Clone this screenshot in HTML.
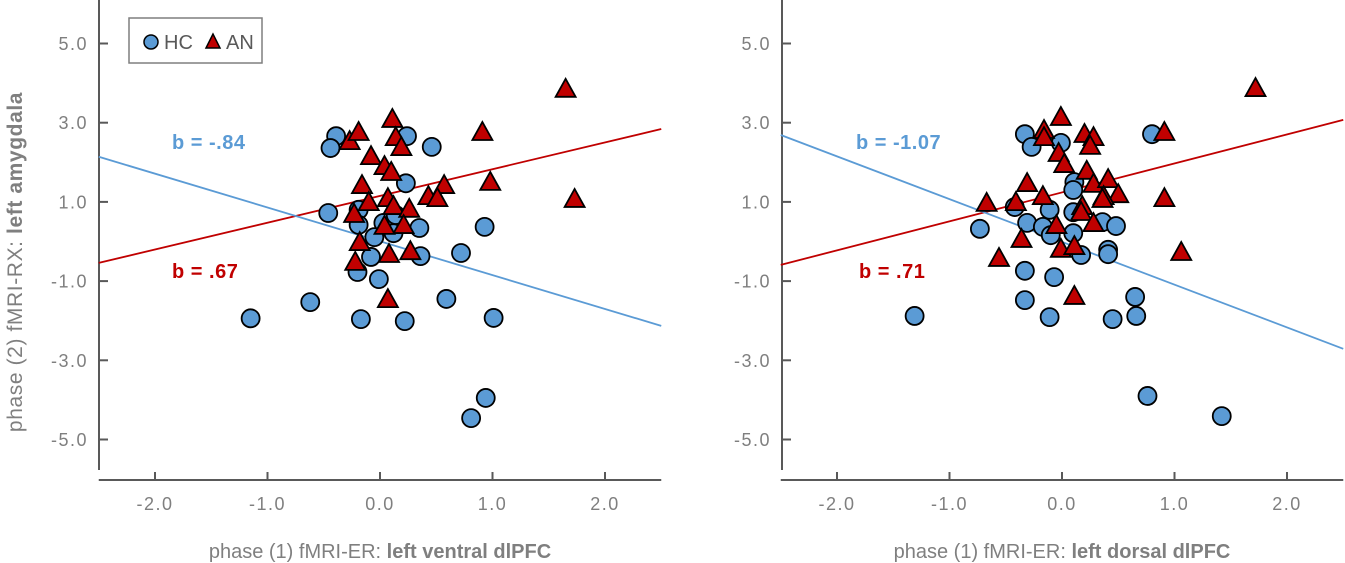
<!DOCTYPE html>
<html><head><meta charset="utf-8"><style>
html,body{margin:0;padding:0;background:#fff;}
svg{display:block;font-family:"Liberation Sans","DejaVu Sans",sans-serif;}
</style></head><body>
<svg id="chart" width="1345" height="563" viewBox="0 0 1345 563">
<g id="root"></g>
</svg>
<script>
// ---- data ----
const xTicks = [-2, -1, 0, 1, 2];
const yTicks = [5, 3, 1, -1, -3, -5];
const tickLabelsX = ["-2.0", "-1.0", "0.0", "1.0", "2.0"];
const tickLabelsY = ["5.0", "3.0", "1.0", "-1.0", "-3.0", "-5.0"];

const leftHCx = [-0.39,-0.44,0.24,0.46,0.23,-0.46,-0.19,-0.19,0.03,-0.05,0.12,0.35,-0.08,-0.20,-0.01,0.36,0.72,0.93,-0.62,-1.15,-0.17,0.22,0.59,1.01,0.81,0.94,0.14];
const leftHCy = [2.66,2.36,2.66,2.39,1.47,0.72,0.80,0.42,0.47,0.11,0.21,0.34,-0.39,-0.77,-0.95,-0.37,-0.29,0.37,-1.53,-1.94,-1.96,-2.01,-1.45,-1.93,-4.46,-3.95,0.67];
const leftANx = [0.11,-0.27,-0.19,0.14,0.19,0.91,-0.08,0.04,0.10,-0.16,0.57,0.43,0.51,0.98,-0.10,0.07,0.12,0.26,-0.23,0.04,0.21,-0.18,0.08,0.27,-0.22,0.07,1.65,1.73];
const leftANy = [3.07,2.51,2.74,2.61,2.36,2.74,2.13,1.88,1.73,1.40,1.40,1.12,1.07,1.48,0.97,1.07,0.87,0.80,0.67,0.37,0.39,-0.04,-0.34,-0.27,-0.54,-1.48,3.83,1.05];

const rightHCx = [-0.33,-0.27,-0.01,0.80,0.11,0.10,-0.42,-0.11,0.10,-0.31,-0.17,-0.10,0.10,0.36,0.48,-0.73,0.17,0.41,0.41,-0.33,-0.07,-0.33,0.65,-0.11,0.45,0.66,0.76,1.42,-1.31];
const rightHCy = [2.71,2.39,2.49,2.71,1.50,1.30,0.87,0.80,0.74,0.47,0.37,0.16,0.21,0.49,0.39,0.32,-0.34,-0.21,-0.32,-0.74,-0.90,-1.48,-1.40,-1.91,-1.96,-1.88,-3.90,-4.41,-1.88];
const rightANx = [-0.01,-0.16,-0.16,0.20,0.28,0.25,0.91,-0.03,0.02,0.22,0.28,0.41,-0.31,0.50,0.37,0.36,-0.17,-0.67,-0.41,0.18,0.17,0.91,0.28,-0.05,-0.36,-0.01,0.11,-0.56,1.06,0.11,1.72];
const rightANy = [3.12,2.79,2.61,2.69,2.61,2.39,2.74,2.21,1.93,1.76,1.43,1.55,1.45,1.17,1.12,1.05,1.12,0.95,0.97,0.87,0.72,1.07,0.44,0.39,0.04,-0.21,-0.14,-0.44,-0.29,-1.40,3.85];

const lineX = [-2.5, 2.5];
const leftRedY = [-0.54, 2.84];
const leftBlueY = [2.14, -2.13];
const rightRedY = [-0.59, 3.07];
const rightBlueY = [2.69, -2.71];

const NS = "http://www.w3.org/2000/svg";
const root = document.getElementById("root");
function mk(tag, attrs, parent) {
  const e = document.createElementNS(NS, tag);
  for (const k in attrs) e.setAttribute(k, attrs[k]);
  (parent || root).appendChild(e);
  return e;
}
const BLUE = "#5b9bd5", RED = "#c00000", AX = "#595959", TXT = "#7f7f7f";
const yScale = v => 241.5 - v * 39.6;

function panel(name, x0, axisX, hcx, hcy, anx, any, redY, blueY, bBlue, bRed, bBlueX, bRedX, title, titleX) {
  const g = mk("g", {});
  
  
  const xs = v => x0 + v * 112.5;
  const ya = mk("line", {x1: axisX, y1: 0, x2: axisX, y2: 470, stroke: AX, "stroke-width": 2}, g);
  
  
  yTicks.forEach((t, i) => {
    const y = yScale(t);
    mk("line", {x1: axisX, y1: y, x2: axisX + 9, y2: y, stroke: AX, "stroke-width": 2}, g);
    const tl = mk("text", {x: axisX - 11, y: y + 6.5, "text-anchor": "end", "font-size": 18, "letter-spacing": 1.5, fill: TXT}, g);
    tl.textContent = tickLabelsY[i];
    
    
  });
  const xa = mk("line", {x1: xs(-2.5), y1: 480, x2: xs(2.5), y2: 480, stroke: AX, "stroke-width": 2}, g);
  
  
  xTicks.forEach((t, i) => {
    const x = xs(t);
    mk("line", {x1: x, y1: 480, x2: x, y2: 472, stroke: AX, "stroke-width": 2}, g);
    const tl = mk("text", {x: x, y: 510, "text-anchor": "middle", "font-size": 18, "letter-spacing": 1.5, fill: TXT}, g);
    tl.textContent = tickLabelsX[i];
    
    
  });
  const xt = mk("text", {x: titleX, y: 558, "text-anchor": "middle", "font-size": 20, fill: TXT}, g);
  
  
  const s1 = mk("tspan", {}, xt); s1.textContent = "phase (1) fMRI-ER: ";
  const s2 = mk("tspan", {"font-weight": "bold"}, xt); s2.textContent = title;
  const rl = mk("line", {x1: xs(lineX[0]), y1: yScale(redY[0]), x2: xs(lineX[1]), y2: yScale(redY[1]), stroke: RED, "stroke-width": 1.8}, g);
  
  
  const bl = mk("line", {x1: xs(lineX[0]), y1: yScale(blueY[0]), x2: xs(lineX[1]), y2: yScale(blueY[1]), stroke: BLUE, "stroke-width": 1.8}, g);
  
  
  hcx.forEach((v, i) => {
    const c = mk("circle", {cx: xs(v), cy: yScale(hcy[i]), r: 9, fill: BLUE, stroke: "#000", "stroke-width": 1.8}, g);
    
    
  });
  anx.forEach((v, i) => {
    const cx = xs(v), cy = yScale(any[i]);
    const p = mk("polygon", {points: `${cx},${cy-11} ${cx-10},${cy+7} ${cx+10},${cy+7}`, fill: RED, stroke: "#000", "stroke-width": 1.8}, g);
    
    
  });
  const tb = mk("text", {x: bBlueX, y: 149, "font-size": 20, "font-weight": "bold", "letter-spacing": 0.5, fill: BLUE}, g);
  tb.textContent = bBlue;
  
  
  const tr = mk("text", {x: bRedX, y: 278, "font-size": 20, "font-weight": "bold", "letter-spacing": 0.5, fill: RED}, g);
  tr.textContent = bRed;
  
  
}

panel("left-panel", 380, 99, leftHCx, leftHCy, leftANx, leftANy, leftRedY, leftBlueY, "b = -.84", "b = .67", 172, 172, "left ventral dlPFC", 380);
panel("right-panel", 1062, 782, rightHCx, rightHCy, rightANx, rightANy, rightRedY, rightBlueY, "b = -1.07", "b = .71", 856, 859, "left dorsal dlPFC", 1062);

const yt = mk("text", {x: 0, y: 0, transform: "translate(22,262) rotate(-90)", "text-anchor": "middle", "font-size": 21, "letter-spacing": 0.6, fill: TXT});


const y1 = mk("tspan", {}, yt); y1.textContent = "phase (2) fMRI-RX: ";
const y2 = mk("tspan", {"font-weight": "bold"}, yt); y2.textContent = "left amygdala";

const lg = mk("g", {});


mk("rect", {x: 129, y: 18, width: 133, height: 45, fill: "#fff", stroke: "#7f7f7f", "stroke-width": 1.5}, lg);
const lc = mk("circle", {cx: 151, cy: 42, r: 7, fill: BLUE, stroke: "#000", "stroke-width": 1.5}, lg);


const lt1 = mk("text", {x: 164, y: 49, "font-size": 20, fill: "#595959"}, lg);
lt1.textContent = "HC";


const lp = mk("polygon", {points: "213,34 206,48 220,48", fill: RED, stroke: "#000", "stroke-width": 1.5}, lg);


const lt2 = mk("text", {x: 226, y: 49, "font-size": 20, fill: "#595959"}, lg);
lt2.textContent = "AN";


</script>
</body></html>
